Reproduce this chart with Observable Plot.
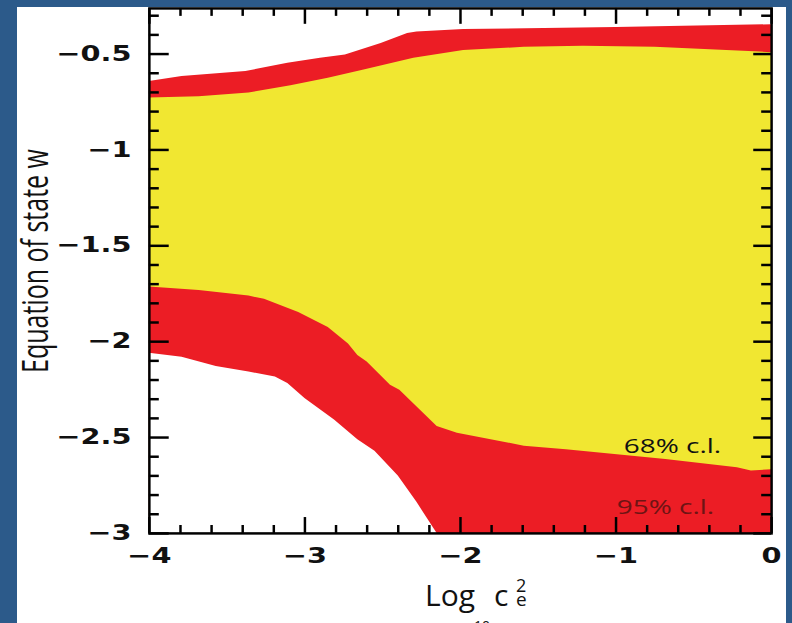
<!DOCTYPE html>
<html><head><meta charset="utf-8">
<script src="https://cdn.jsdelivr.net/npm/d3@7"></script>
<script src="https://cdn.jsdelivr.net/npm/@observablehq/plot@0.6"></script>
<style>
html,body{margin:0;padding:0;}
body{width:792px;height:623px;background:#2c5a8a;position:relative;overflow:hidden;}
#panel{position:absolute;left:17px;top:7px;width:769px;height:620px;background:#fff;}
#chart{position:absolute;left:0;top:0;width:786px;height:623px;overflow:hidden;}
.lbl{position:absolute;font-family:"Open Sans";color:#111;white-space:nowrap;line-height:1;}
</style></head><body>
<div id="panel"></div>
<div id="chart"></div>
<div class="lbl" style="font-size:25px;left:0;top:0;transform-origin:0 0;transform:translate(16px,261px) scaleX(1.45) rotate(-90deg) translate(-50%,0)">Equation of state w</div>
<div class="lbl" style="font-size:30px;left:425px;top:580px;">Log</div>
<div class="lbl" style="font-size:14px;left:474px;top:619px;">10</div>
<div class="lbl" style="font-size:30px;left:494px;top:580px;">c</div>
<div class="lbl" style="font-size:18px;left:516px;top:576px;">2</div>
<div class="lbl" style="font-size:19px;left:516px;top:590px;">e</div>
<script>
// Upper edge of 95% region
const upper95X = [-4.0, -3.79, -3.38, -3.11, -2.90, -2.74, -2.51, -2.34, -2.28, -1.98, -1.0, 0];
const upper95W = [-0.643, -0.617, -0.591, -0.548, -0.522, -0.505, -0.445, -0.393, -0.385, -0.372, -0.362, -0.347];
// Upper edge of 68% region
const upper68X = [-4.0, -3.68, -3.36, -3.09, -2.85, -2.62, -2.30, -1.98, -1.59, -1.21, -0.75, -0.11, 0];
const upper68W = [-0.729, -0.722, -0.703, -0.665, -0.626, -0.583, -0.522, -0.482, -0.465, -0.459, -0.465, -0.488, -0.493];
// Lower edge of 68% region
const lower68X = [-4.0, -3.68, -3.36, -3.26, -3.04, -2.85, -2.72, -2.66, -2.60, -2.45, -2.39, -2.15, -2.02, -1.59, -1.32, -0.68, -0.22, -0.13, 0];
const lower68W = [-1.715, -1.733, -1.762, -1.779, -1.848, -1.926, -2.012, -2.072, -2.106, -2.227, -2.253, -2.442, -2.477, -2.545, -2.563, -2.614, -2.657, -2.675, -2.668];
// Lower edge of 95% region
const lower95X = [-4.0, -3.79, -3.57, -3.36, -3.19, -3.11, -3.00, -2.81, -2.66, -2.55, -2.40, -2.28, -2.17, -2.15];
const lower95W = [-2.060, -2.081, -2.129, -2.158, -2.184, -2.218, -2.296, -2.408, -2.511, -2.571, -2.700, -2.838, -2.976, -3.0];

const xMajor = [-4, -3, -2, -1, 0];
const xMinor = [-3.8, -3.6, -3.4, -3.2, -2.8, -2.6, -2.4, -2.2, -1.8, -1.6, -1.4, -1.2, -0.8, -0.6, -0.4, -0.2];
const yMajor = [-3, -2.5, -2, -1.5, -1, -0.5];
const yMinor = [-2.9, -2.8, -2.7, -2.6, -2.4, -2.3, -2.2, -2.1, -1.9, -1.8, -1.7, -1.6, -1.4, -1.3, -1.2, -1.1, -0.9, -0.8, -0.7, -0.6, -0.4, -0.3];
const annotLabels = ["68% c.l.", "95% c.l."];

const RED = "#ec1d25", YELLOW = "#f1e731", FLOOR = -3;
const rows = (xs, ws) => xs.map((x, i) => ({x, w: ws[i]}));
const fmt = d3.format("~g");

const FW = 792 - 150 - 15, FH = 623 - 8 - 86;
const tk = {stroke: "#000", strokeWidth: 2.5};
const lab = {fontSize: 21, fontWeight: "bold", fontFamily: "DejaVu Sans", fill: "#111"};

const chart = Plot.plot({
  width: 792, height: 623,
  marginLeft: 150, marginRight: 15, marginTop: 8, marginBottom: 86,
  x: {domain: [-4, 0]},
  y: {domain: [-3, -0.262]},
  style: {background: "transparent", fontFamily: "DejaVu Sans", fontSize: "21px", fontWeight: "bold", color: "#111", overflow: "visible"},
  marks: [
    Plot.areaY(rows(upper95X, upper95W), {x: "x", y1: FLOOR, y2: "w", fill: RED}),
    Plot.areaY(rows(upper68X, upper68W), {x: "x", y1: FLOOR, y2: "w", fill: YELLOW}),
    Plot.areaY(rows(lower68X, lower68W), {x: "x", y1: FLOOR, y2: "w", fill: RED}),
    Plot.areaY(rows(lower95X, lower95W), {x: "x", y1: FLOOR, y2: "w", fill: "#fff"}),
    Plot.tickY(yMajor, {y: d => d, insetRight: FW - 20, ...tk}),
    Plot.tickY(yMajor, {y: d => d, insetLeft: FW - 18, ...tk}),
    Plot.tickY(yMinor, {y: d => d, insetRight: FW - 10, ...tk}),
    Plot.tickY(yMinor, {y: d => d, insetLeft: FW - 10, ...tk}),
    Plot.tickX(xMajor, {x: d => d, insetTop: FH - 16, ...tk}),
    Plot.tickX(xMajor, {x: d => d, insetBottom: FH - 16, ...tk}),
    Plot.tickX(xMinor, {x: d => d, insetTop: FH - 8, ...tk}),
    Plot.tickX(xMinor, {x: d => d, insetBottom: FH - 8, ...tk}),
    Plot.frame({stroke: "#000", strokeWidth: 2.5}),
    Plot.axisY(yMajor, {anchor: "left", tickSize: 0, tickPadding: 18, label: null, tickFormat: fmt, ...lab}),
    Plot.axisX(xMajor, {anchor: "bottom", tickSize: 0, tickPadding: 15, label: null, tickFormat: fmt, ...lab}),
    Plot.text([annotLabels[0]], {x: -0.95, y: -2.581, text: d => d, textAnchor: "start", lineAnchor: "bottom",
      fontFamily: "Open Sans", fontSize: 21, fontWeight: "normal", fill: "#111"}),
    Plot.text([annotLabels[1]], {x: -0.995, y: -2.901, text: d => d, textAnchor: "start", lineAnchor: "bottom",
      fontFamily: "Open Sans", fontSize: 21, fontWeight: "normal", fill: "#6e1414"})
  ]
});
document.getElementById("chart").appendChild(chart);

function stretch(el, s) {
  const t = el.getAttribute("transform") || "";
  const x = el.getAttribute("x"), y = el.getAttribute("y");
  let pre = "";
  if (x != null && x !== "" && !isNaN(+x)) { pre += ` translate(${x},0)`; el.removeAttribute("x"); }
  if (y != null && y !== "" && !isNaN(+y)) { pre += ` translate(0,${y})`; el.removeAttribute("y"); }
  el.setAttribute("transform", `${t}${pre} scale(${s},1)`);
}
chart.querySelectorAll("text").forEach(el => {
  stretch(el, el.textContent.includes("c.l.") ? 1.34 : 1.38);
});
</script>
</body></html>
